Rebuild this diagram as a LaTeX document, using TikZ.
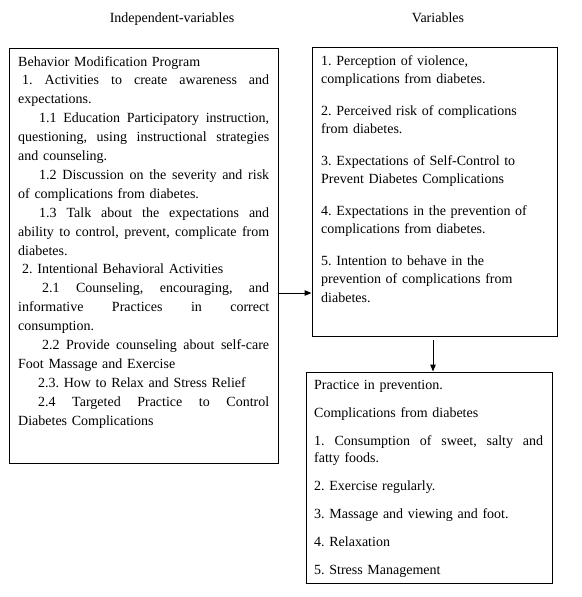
\documentclass[tikz,border=0pt]{standalone}
\usepackage{fontspec}
\setmainfont{Liberation Serif}
\usetikzlibrary{arrows.meta}
\newcommand{\jl}[3]{\leavevmode\hbox to #1{\spaceskip=0pt\xspaceskip=0pt\hskip #2\relax #3}}
\newcommand{\ind}[1]{\hspace*{#1}}
\frenchspacing
\begin{document}
\begin{tikzpicture}[x=1pt,y=-1pt,
  box/.style={draw=black, line width=1pt, inner sep=0pt, rectangle},
  txt/.style={inner sep=0pt, anchor=base west, align=left, font=\frenchspacing\fontsize{14}{18.9}\selectfont},
  ttl/.style={inner sep=0pt, anchor=base, font=\fontsize{14}{18}\selectfont},
  arr/.style={line width=1pt, -{Triangle[length=7pt,width=5.5pt]}}]
\useasboundingbox (0,0) rectangle (581,597);
\fill[white] (0,0) rectangle (581,597);

\node[ttl] (t1) at (172,22) {Independent-variables};
\node[ttl] (t2) at (438,22) {Variables};

\node[box, minimum width=269pt, minimum height=415pt] (L) at (143.5,255.5) {};
\node[box, minimum width=245pt, minimum height=289pt] (R) at (434.5,191.5) {};
\node[box, minimum width=246pt, minimum height=211pt] (B) at (429,477.5) {};

\node[txt, text width=253pt] (Ltext) at (18,66) {%
Behavior Modification Program\\
\jl{251pt}{4pt}{1. Activities to create awareness and}\\
expectations.\\
\jl{251pt}{21pt}{1.1 Education Participatory instruction,}\\
\jl{251pt}{0pt}{questioning, using instructional strategies}\\
and counseling.\\
\jl{251pt}{21pt}{1.2 Discussion on the severity and risk}\\
of complications from diabetes.\\
\jl{251pt}{21pt}{1.3 Talk about the expectations and}\\
\jl{251pt}{0pt}{ability to control, prevent, complicate from}\\
diabetes.\\
\ind{4pt}2. Intentional Behavioral Activities\\
\jl{251pt}{24pt}{2.1 Counseling, encouraging, and}\\
\jl{251pt}{0pt}{informative Practices in correct}\\
consumption.\\
\jl{251pt}{24pt}{2.2 Provide counseling about self-care}\\
Foot Massage and Exercise\\
\ind{20pt}2.3. How to Relax and Stress Relief\\
\jl{251pt}{20pt}{2.4 Targeted Practice to Control}\\
Diabetes Complications};

\node[txt, text width=230pt, font=\frenchspacing\fontsize{14}{18.5}\selectfont] (Rtext) at (321,65) {%
1. Perception of violence,\\
complications from diabetes.\\[13pt]
2. Perceived risk of complications\\
from diabetes.\\[13pt]
3. Expectations of Self-Control to\\
Prevent Diabetes Complications\\[13pt]
4. Expectations in the prevention of\\
complications from diabetes.\\[13pt]
5. Intention to behave in the\\
prevention of complications from\\
diabetes.};

\node[txt, text width=231pt, font=\frenchspacing\fontsize{14}{17.5}\selectfont] (Btext) at (314,389) {%
Practice in prevention.\\[10.5pt]
Complications from diabetes\\[10.5pt]
\jl{229pt}{0pt}{1. Consumption of sweet, salty and}\\
fatty foods.\\[10.5pt]
2. Exercise regularly.\\[10.5pt]
3. Massage and viewing and foot.\\[10.5pt]
4. Relaxation\\[10.5pt]
5. Stress Management};

\coordinate (h) at (0,293);
\draw[arr] (L.east |- h) -- (R.west |- h);
\coordinate (v) at (433,340);
\draw[arr] (v) -- (v |- B.north);
\end{tikzpicture}
\end{document}
